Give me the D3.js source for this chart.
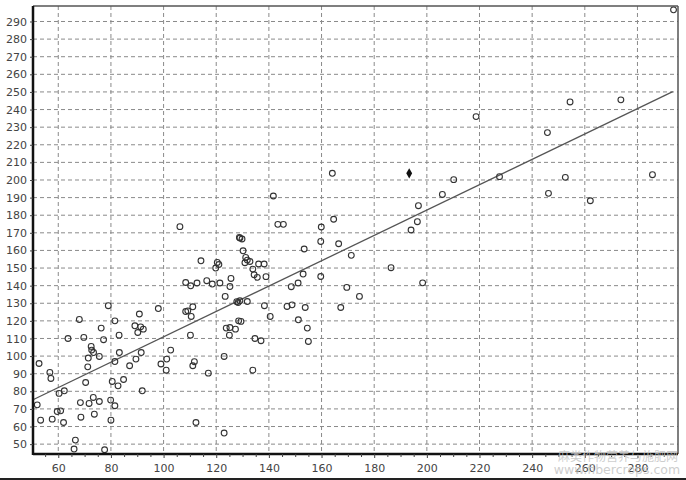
<!DOCTYPE html>
<html><head><meta charset="utf-8">
<script src="https://cdn.jsdelivr.net/npm/d3@7"></script>
<style>
html,body{margin:0;padding:0;background:#fff;}
svg{display:block;}
text{font-family:"DejaVu Sans",Arial,sans-serif;}
</style></head>
<body>
<svg id="c" width="686" height="480"></svg>
<script>
// Data
const xValues = [79,98,109.2,111.1,128.3,52.7,56.8,57.2,52,53.3,57.7,60.3,62.3,59.6,60.9,62,68,63.7,69.7,72.5,72.7,73.4,75.6,71.4,71.2,70.4,68.4,68.6,71.7,73.3,73.7,75.6,66.5,66,77.6,76.3,77.2,81.5,83.1,83.2,81.5,80.5,82.7,84.8,79.9,81.5,80,87.1,89.5,91.5,89.1,90.8,90.2,91.3,92.3,91.9,99,101.2,101,102.7,110.5,110.2,111.7,111.1,112.3,117,123,123,123.8,125.2,125,127.3,128.5,
106.2,114.2,108.4,110.3,112.7,116.4,118.5,121.4,119.8,120.4,121,123.4,125.6,125.2,128.8,
164.1,210.2,205.9,196.8,196.4,194,186.4,198.4,141.7,143.4,145.5,164.6,159.9,159.7,166.5,171.3,153.4,159.7,153,151.1,148.5,169.6,174.4,129,129.8,130.2,131.2,130.9,132.8,133.9,136.1,138.2,134.4,135.6,138.9,127.8,129,131.8,138.3,146.9,148.8,153.8,167.3,
140.5,151.2,154.6,155,134.7,137,129.4,133.9,108.4,131.8,
293.7,273.7,254.4,245.8,218.7,227.6,252.6,246.2,262.1,285.7];
const yValues = [128.6,127,125.7,128,130.4,95.8,90.7,87.3,72.3,63.6,64.2,78.8,80.3,68.5,68.9,62.3,120.8,110,110.6,105.5,103.4,102,99.8,98.9,93.9,85,73.6,65.3,73.1,76.5,67,74.2,52.3,47.2,46.8,115.9,109.3,120,111.9,102,96.9,85.6,83.1,86.7,75,71.8,63.6,94.5,98.3,102,117.2,123.9,113.4,116.6,115.3,80.3,95.5,98.3,92,103.4,122.5,111.9,96.8,94.5,62.3,90.3,99.8,56.3,115.9,116.2,111.9,115.3,120,
173.5,154.1,141.8,139.9,141.5,142.8,140.9,141.5,150,153.2,152,133.9,144.1,139.5,167.4,
203.8,200.2,191.8,185.4,176.3,171.6,150.2,141.6,190.9,174.8,174.8,177.7,173.3,165.1,163.8,157.2,160.8,145.2,146.6,141.5,139.4,139,133.9,167,166.5,159.8,156,153,153.7,149.4,152.3,152.3,146.2,144.7,145.1,130.9,131.4,131,128.6,128.2,129.1,127.6,127.6,
122.5,120.6,115.9,108.3,110,108.7,119.7,92,125.3,154.5,
296.6,245.5,244.3,226.9,236,201.9,201.5,192.4,188.2,203];
const highlightX = [193.3];
const highlightY = [203.8];
const fitX = [50.4, 293.4];
const fitY = [75.2, 250.2];
const xTicks = [60,80,100,120,140,160,180,200,220,240,260,280];
const yTicks = [50,60,70,80,90,100,110,120,130,140,150,160,170,180,190,200,210,220,230,240,250,260,270,280,290];
const watermark = ["麻类作物营养与施肥网", "www.fibercrops.com"];

const svg = d3.select("#c");
const L = 33, R = 678, T = 6, B = 454;
const x = d3.scaleLinear().domain([50.4, 295.4]).range([L, R]);
const y = d3.scaleLinear().domain([44.4, 298.8]).range([B, T]);

// grid
const g = svg.append("g");
g.selectAll("line.gx").data(xTicks).join("line")
  .attr("x1", d => x(d)).attr("x2", d => x(d)).attr("y1", T).attr("y2", B)
  .attr("stroke", "#8a8a8a").attr("stroke-width", 1).attr("stroke-dasharray", "4,3");
g.selectAll("line.gy").data(yTicks).join("line")
  .attr("y1", d => y(d)).attr("y2", d => y(d)).attr("x1", L).attr("x2", R)
  .attr("stroke", "#8a8a8a").attr("stroke-width", 1).attr("stroke-dasharray", "4,3");

// frame top/right
svg.append("line").attr("x1", L).attr("x2", R).attr("y1", T).attr("y2", T).attr("stroke", "#555").attr("stroke-width", 1.5);
svg.append("line").attr("x1", R).attr("x2", R).attr("y1", T).attr("y2", B).attr("stroke", "#555").attr("stroke-width", 1.5);

// fit line
svg.append("line")
  .attr("x1", x(fitX[0])).attr("y1", y(fitY[0])).attr("x2", x(fitX[1])).attr("y2", y(fitY[1]))
  .attr("stroke", "#555").attr("stroke-width", 1.3);

// points
const pts = xValues.map((v, i) => [v, yValues[i]]);
svg.append("g").selectAll("circle").data(pts).join("circle")
  .attr("cx", d => x(d[0])).attr("cy", d => y(d[1])).attr("r", 2.9)
  .attr("fill", "none").attr("stroke", "#333").attr("stroke-width", 1.1);
svg.append("g").selectAll("path").data(highlightX.map((v, i) => [v, highlightY[i]])).join("path")
  .attr("d", d3.symbol(d3.symbolDiamond, 30))
  .attr("transform", d => `translate(${x(d[0])},${y(d[1])})`)
  .attr("fill", "#111");

// axes
const xAxis = svg.append("g").attr("transform", `translate(0,${B})`)
  .call(d3.axisBottom(x).tickValues(xTicks).tickSize(4).tickPadding(6));
const xMinor = d3.range(55, 295, 5).filter(v => v % 20 !== 0);
svg.append("g").attr("transform", `translate(0,${B})`)
  .call(d3.axisBottom(x).tickValues(xMinor).tickSize(3).tickFormat(""))
  .call(s => s.select(".domain").remove())
  .selectAll("line").attr("stroke", "#444");
const yAxis = svg.append("g").attr("transform", `translate(${L},0)`)
  .call(d3.axisLeft(y).tickValues(yTicks).tickSize(3).tickPadding(3));
[xAxis, yAxis].forEach(a => {
  a.select(".domain").attr("stroke", "#111").attr("stroke-width", 2.5);
  a.selectAll("text").attr("fill", "#444").style("font-size", "11px");
  a.selectAll(".tick line").attr("stroke", "#444");
});
xAxis.select(".domain").attr("d", `M${L},0H${R}`);
yAxis.select(".domain").attr("d", `M0,${T}V${B + 1}`);

// bottom image edge
svg.append("line").attr("x1", 0).attr("x2", 686).attr("y1", 479).attr("y2", 479).attr("stroke", "#222").attr("stroke-width", 2);

// watermark
svg.append("text").attr("x", 618).attr("y", 461).attr("text-anchor", "middle")
  .attr("fill", "#c4c4c4").attr("fill-opacity", 0.85).style("font-size", "12px").style("font-family", "Noto Sans CJK SC").text(watermark[0]);
svg.append("text").attr("x", 617).attr("y", 474).attr("text-anchor", "middle")
  .attr("fill", "#c4c4c4").attr("fill-opacity", 0.85).style("font-size", "12.5px").text(watermark[1]);
</script>
</body></html>
